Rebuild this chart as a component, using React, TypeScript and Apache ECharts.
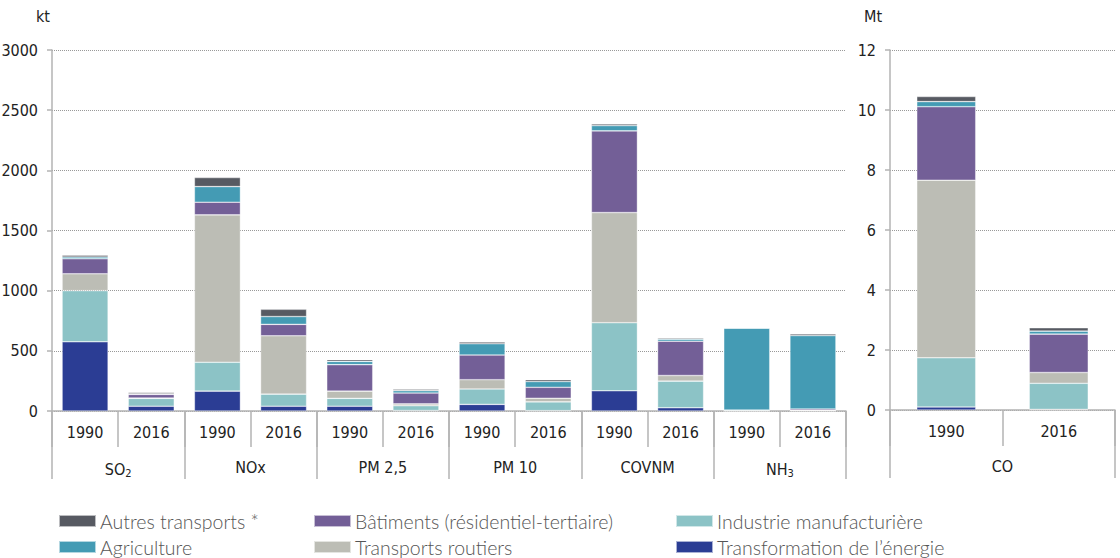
import React, { useEffect, useRef } from "react";
import * as echarts from "echarts";

const years = ["1990", "2016", "1990", "2016", "1990", "2016", "1990", "2016", "1990", "2016", "1990", "2016"];
const groups = ["{n|SO}{s|2}", "NOx", "PM 2,5", "PM 10", "COVNM", "{n|NH}{s|3}"];
const coYears = ["1990", "2016"];
const coGroups = ["CO"];
const yTicksKt = { min: 0, max: 3000, interval: 500 };
const yTicksMt = { min: 0, max: 12, interval: 2 };

const seriesNames = [
  "Transformation de l’énergie",
  "Industrie manufacturière",
  "Transports routiers",
  "Bâtiments (résidentiel-tertiaire)",
  "Agriculture",
  "Autres transports *",
];
const colors = ["#2b3d94", "#8cc3c6", "#bcbdb5", "#735f97", "#449bb4", "#575a62"];

// kt, order: SO2 90/16, NOx, PM2.5, PM10, COVNM, NH3
const transformation = [575, 40, 165, 40, 40, 4, 55, 3, 168, 27, 0, 2];
const industrie = [425, 65, 240, 100, 65, 40, 128, 73, 566, 221, 8, 3];
const routiers = [140, 3, 1225, 485, 60, 15, 77, 30, 915, 47, 0, 0];
const batiments = [125, 30, 105, 95, 220, 90, 205, 91, 679, 285, 0, 12];
const agriculture = [15, 5, 130, 65, 27, 20, 94, 48, 44, 17, 680, 610];
const autres = [15, 12, 75, 60, 15, 12, 14, 16, 14, 11, 2, 14];

// Mt, CO 1990 / 2016
const coTransformation = [0.1, 0.02];
const coIndustrie = [1.64, 0.87];
const coRoutiers = [5.92, 0.36];
const coBatiments = [2.45, 1.28];
const coAgriculture = [0.17, 0.1];
const coAutres = [0.17, 0.11];

const leftData = [transformation, industrie, routiers, batiments, agriculture, autres];
const rightData = [coTransformation, coIndustrie, coRoutiers, coBatiments, coAgriculture, coAutres];

const legendOrder = [
  { name: "Autres transports *", left: 58, top: 511 },
  { name: "Bâtiments (résidentiel-tertiaire)", left: 313, top: 511 },
  { name: "Industrie manufacturière", left: 675, top: 511 },
  { name: "Agriculture", left: 58, top: 537 },
  { name: "Transports routiers", left: 313, top: 537 },
  { name: "Transformation de l’énergie", left: 675, top: 537 },
];

const axisFont = "'Liberation Sans Narrow', 'DejaVu Sans Condensed', 'Roboto', sans-serif";
const legendFont = "Lato, 'Open Sans', sans-serif";
const axisGray = "#b3b3b3";

export default function App() {
  const ref = useRef<HTMLDivElement>(null);
  useEffect(() => {
    document.body.style.margin = "0";
    if (!ref.current) return;
    const chart = echarts.init(ref.current, null, { renderer: "svg" });

    const yearAxis = (gridIndex: number, data: string[]) => ({
      type: "category",
      gridIndex,
      position: "bottom",
      data,
      axisLine: { show: true, lineStyle: { color: axisGray, width: 1.5 } },
      axisTick: { show: true, interval: 0, length: 36, lineStyle: { color: axisGray, width: 1.5 } },
      axisLabel: { interval: 0, margin: 13, color: "#222", fontSize: 16, fontFamily: axisFont },
    });
    const groupAxis = (gridIndex: number, data: string[]) => ({
      type: "category",
      gridIndex,
      position: "bottom",
      data,
      axisLine: { show: false },
      axisTick: { show: true, interval: 0, length: 68, lineStyle: { color: axisGray, width: 1.5 } },
      axisLabel: {
        interval: 0,
        margin: 48,
        color: "#222",
        fontSize: 16,
        fontFamily: axisFont,
        rich: {
          n: { fontSize: 16, fontFamily: axisFont, color: "#222" },
          s: { fontSize: 11, fontFamily: axisFont, color: "#222", padding: [9, 0, 0, 0] },
        },
      },
    });
    const valueAxis = (gridIndex: number, t: { min: number; max: number; interval: number }) => ({
      type: "value",
      gridIndex,
      min: t.min,
      max: t.max,
      interval: t.interval,
      axisLine: { show: true, lineStyle: { color: axisGray, width: 1.5 } },
      axisTick: { show: true, length: 5, lineStyle: { color: axisGray, width: 1.5 } },
      axisLabel: {
        margin: 14,
        color: "#222",
        fontSize: 16,
        fontFamily: axisFont,
        formatter: (v: number) => String(v),
      },
      splitLine: { show: true, lineStyle: { color: "#999", type: "dotted", width: 1 } },
    });

    const series: any[] = [];
    seriesNames.forEach((name, i) => {
      series.push({
        name,
        type: "bar",
        stack: "left",
        xAxisIndex: 0,
        yAxisIndex: 0,
        barWidth: 46,
        data: leftData[i],
        itemStyle: { color: colors[i], borderColor: "rgba(255,255,255,0.6)", borderWidth: 0.6 },
      });
    });
    seriesNames.forEach((name, i) => {
      series.push({
        name,
        type: "bar",
        stack: "right",
        xAxisIndex: 2,
        yAxisIndex: 1,
        barWidth: 59,
        data: rightData[i],
        itemStyle: { color: colors[i], borderColor: "rgba(255,255,255,0.6)", borderWidth: 0.6 },
      });
    });

    chart.setOption({
      animation: false,
      backgroundColor: "#ffffff",
      grid: [
        { left: 52, right: 274, top: 50, bottom: 147, outerBoundsMode: "none", containLabel: false },
        { left: 890, right: 5, top: 50, bottom: 148, outerBoundsMode: "none", containLabel: false },
      ],
      xAxis: [yearAxis(0, years), groupAxis(0, groups), yearAxis(1, coYears), groupAxis(1, coGroups)],
      yAxis: [valueAxis(0, yTicksKt), valueAxis(1, yTicksMt)],
      legend: legendOrder.map((l) => ({
        data: [l.name],
        left: l.left,
        top: l.top,
        itemWidth: 37,
        itemHeight: 12,
        icon: "rect",
        padding: 0,
        selectedMode: false,
        textStyle: { color: "#555", fontSize: 19.5, fontFamily: legendFont, fontWeight: 300, padding: [0, 0, 0, -1] },
      })),
      graphic: [
        { type: "text", left: 36, top: 8, style: { text: "kt", fontSize: 16, fontFamily: axisFont, fill: "#222" } },
        { type: "text", left: 864, top: 8, style: { text: "Mt", fontSize: 16, fontFamily: axisFont, fill: "#222" } },
      ],
      series,
    });
    return () => chart.dispose();
  }, []);
  return <div ref={ref} style={{ width: 1120, height: 558 }} />;
}
